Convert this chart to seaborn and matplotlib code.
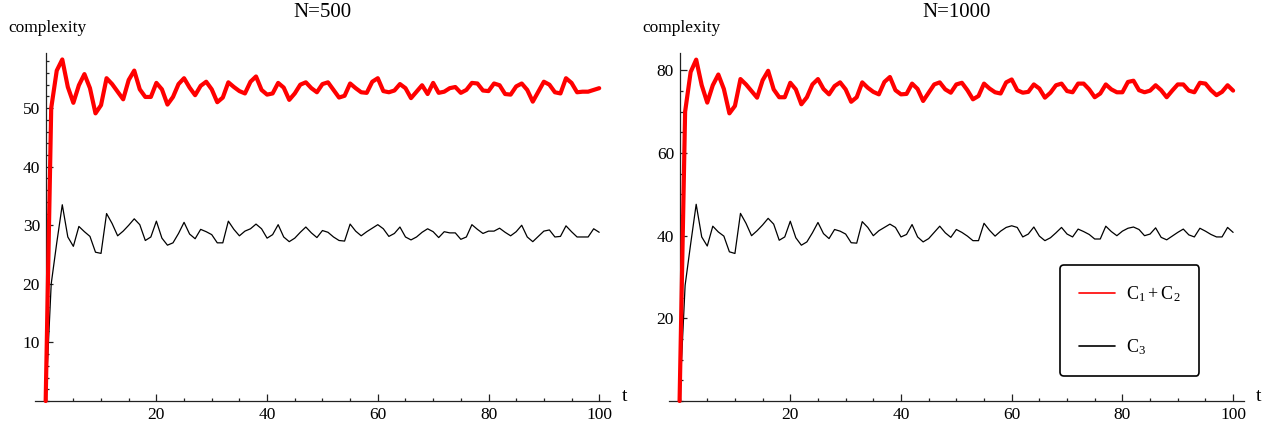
import numpy as np
import matplotlib
matplotlib.use('Agg')
import matplotlib.pyplot as plt
from matplotlib.lines import Line2D
from matplotlib.ticker import MultipleLocator
import seaborn as sns

# time steps shared by both panels
t = np.arange(0, 101)

# N=500 panel
red_500 = [0, 50, 56.4, 58.3, 53.6, 50.9, 53.9, 55.8, 53.4, 49.1,
           50.5, 55.1, 54.1, 52.8, 51.5, 54.8, 56.4, 53.2, 51.9, 51.9,
           54.3, 53.2, 50.6, 51.9, 54.1, 55.1, 53.5, 52.2, 53.8, 54.5,
           53.2, 51.0, 51.8, 54.4, 53.6, 52.9, 52.5, 54.5, 55.4, 53.1,
           52.3, 52.5, 54.3, 53.5, 51.4, 52.5, 54.0, 54.4, 53.4, 52.7,
           54.1, 54.4, 53.1, 51.8, 52.1, 54.2, 53.4, 52.7, 52.6, 54.5,
           55.1, 52.9, 52.7, 53.0, 54.1, 53.4, 51.7, 52.8, 53.9, 52.4,
           54.3, 52.6, 52.8, 53.4, 53.6, 52.6, 53.1, 54.3, 54.2, 53.0,
           52.9, 54.2, 53.9, 52.4, 52.3, 53.7, 54.2, 53.1, 51.1, 52.8,
           54.5, 54.0, 52.7, 52.5, 55.1, 54.3, 52.7, 52.8, 52.8, 53.1,
           53.4]
black_500 = [0, 20, 27, 33.5, 28.0, 26.4, 29.8, 28.9, 28.1, 25.4,
             25.2, 32.0, 30.3, 28.2, 29.0, 30.0, 31.1, 30.1, 27.4, 28.0,
             30.7, 27.8, 26.6, 27.0, 28.6, 30.5, 28.5, 27.7, 29.3, 28.9,
             28.4, 27.0, 27.0, 30.7, 29.3, 28.2, 29.0, 29.4, 30.2, 29.4,
             27.8, 28.4, 30.1, 28.0, 27.2, 27.8, 28.8, 29.7, 28.7, 27.9,
             29.1, 28.8, 28.0, 27.4, 27.3, 30.2, 29.0, 28.2, 28.9, 29.5,
             30.1, 29.4, 28.1, 28.6, 29.7, 28.0, 27.5, 28.0, 28.8, 29.4,
             28.9, 27.9, 28.9, 28.7, 28.7, 27.6, 28.0, 30.1, 29.3, 28.6,
             29.0, 29.0, 29.5, 28.8, 28.2, 28.9, 30.0, 28.0, 27.2, 28.1,
             29.0, 29.2, 28.0, 28.1, 29.9, 28.9, 28.0, 28.0, 28.0, 29.4,
             28.8]

# N=1000 panel
red_1000 = [0, 70.0, 79.6, 82.6, 76.4, 72.2, 76.4, 79.0, 75.5, 69.6,
            71.4, 77.9, 76.6, 75.0, 73.4, 77.6, 79.9, 75.4, 73.5, 73.5,
            77.0, 75.4, 71.8, 73.5, 76.6, 77.9, 75.5, 74.2, 76.2, 77.1,
            75.4, 72.4, 73.5, 77.1, 75.8, 74.8, 74.2, 77.2, 78.4, 75.2,
            74.2, 74.3, 76.8, 75.5, 72.6, 74.6, 76.6, 77.1, 75.4, 74.6,
            76.6, 77.0, 75.2, 73.0, 73.8, 76.8, 75.6, 74.7, 74.4, 77.1,
            77.8, 75.2, 74.6, 74.8, 76.6, 75.6, 73.4, 74.6, 76.4, 76.8,
            75.0, 74.7, 76.8, 76.8, 75.4, 73.5, 74.4, 76.6, 75.4, 74.7,
            74.7, 77.2, 77.5, 75.2, 74.7, 75.1, 76.4, 75.2, 73.5, 75.1,
            76.6, 76.6, 75.1, 74.7, 77.0, 76.8, 75.2, 74.0, 74.8, 76.4,
            75.1]
black_1000 = [0, 28, 38, 47.6, 39.7, 37.5, 42.3, 40.9, 39.9, 36.1,
              35.7, 45.4, 43.0, 40.0, 41.2, 42.6, 44.2, 42.8, 38.9, 39.7,
              43.5, 39.5, 37.7, 38.5, 40.7, 43.2, 40.5, 39.3, 41.5, 41.1,
              40.4, 38.3, 38.2, 43.4, 42.0, 40.0, 41.2, 42.0, 42.8, 42.0,
              39.7, 40.3, 42.7, 39.7, 38.5, 39.3, 40.8, 42.3, 40.7, 39.6,
              41.5, 40.8, 39.9, 38.8, 38.8, 43.0, 41.3, 39.9, 41.1, 42.0,
              42.4, 42.0, 39.7, 40.4, 42.1, 39.9, 38.8, 39.5, 40.7, 42.0,
              40.4, 39.7, 41.6, 41.0, 40.3, 39.2, 39.2, 42.3, 41.0, 40.0,
              41.1, 41.8, 42.1, 41.5, 40.0, 40.4, 41.9, 39.6, 39.0, 39.9,
              40.8, 41.6, 40.2, 39.7, 41.8, 41.1, 40.3, 39.7, 39.7, 42.0,
              40.8]

titles = ['N=500', 'N=1000']
y_tops = [59.4, 84.2]
y_majors = [10, 20]
y_minors = [2, 5]
legend_labels = [r'$\mathrm{C}_1\:+\:\mathrm{C}_2$', r'$\mathrm{C}_3$']


def style_axes(ax, title, y_top, y_major, y_minor):
    ''' Mathematica-like axes crossing at the origin '''
    ax.set_xlim(-2, 102)
    ax.set_ylim(0, y_top)
    for side in ['top', 'right']:
        ax.spines[side].set_visible(False)
    ax.spines['left'].set_position(('data', 0))
    ax.spines['bottom'].set_position(('data', 0))
    for side in ['left', 'bottom']:
        ax.spines[side].set_linewidth(0.9)
        ax.spines[side].set_color('#222222')

    ax.set_xticks([20, 40, 60, 80, 100])
    ax.set_yticks(np.arange(y_major, y_top, y_major))
    ax.xaxis.set_minor_locator(MultipleLocator(5))
    ax.yaxis.set_minor_locator(MultipleLocator(y_minor))
    ax.tick_params(which='both', direction='in', width=0.9, color='#222222',
                   labelsize=12.5, labelcolor='black', pad=4,
                   bottom=True, left=True, top=False, right=False)
    ax.tick_params(which='major', length=5)
    ax.tick_params(which='minor', length=2.2)
    ax.set_xlabel('')
    ax.set_ylabel('')

    ax.text(0.5, 1.117, title, transform=ax.transAxes, ha='center',
            va='center', fontsize=15, color='black')
    ax.text(-0.046, 1.072, 'complexity', transform=ax.transAxes, ha='left',
            va='center', fontsize=12.5, color='black')
    ax.text(1.02, 0.014, 't', transform=ax.transAxes, ha='left',
            va='center', fontsize=14, color='black')


if __name__ == '__main__':
    sns.set_style('white')
    plt.rcParams['font.family'] = ['Liberation Serif', 'DejaVu Serif']
    plt.rcParams['mathtext.fontset'] = 'custom'
    plt.rcParams['mathtext.rm'] = 'Liberation Serif'
    plt.rcParams['mathtext.it'] = 'Liberation Serif:italic'
    plt.rcParams['text.color'] = 'black'

    fig = plt.figure(figsize=(12.77, 4.3), dpi=100)
    ax1 = fig.add_axes([0.0271, 0.0674, 0.4508, 0.8093])
    ax2 = fig.add_axes([0.5235, 0.0674, 0.4508, 0.8093])

    panels = [(ax1, red_500, black_500), (ax2, red_1000, black_1000)]
    for ii, (ax, red, black) in enumerate(panels):
        sns.lineplot(x=t, y=black, ax=ax, color='black', linewidth=0.9,
                     clip_on=False, zorder=3)
        sns.lineplot(x=t, y=red, ax=ax, color='red', linewidth=3,
                     clip_on=False, zorder=4)
        style_axes(ax, titles[ii], y_tops[ii], y_majors[ii], y_minors[ii])

    handles = [Line2D([], [], color='red', linewidth=1.2),
               Line2D([], [], color='black', linewidth=1.2)]
    leg = ax2.legend(handles, legend_labels, loc='upper left',
                     bbox_to_anchor=(0.68, 0.391), borderaxespad=0,
                     fontsize=13, frameon=True, fancybox=True,
                     borderpad=1.05, labelspacing=1.85, handlelength=2.0,
                     handletextpad=0.6)
    frame = leg.get_frame()
    frame.set_edgecolor('black')
    frame.set_linewidth(1.2)
    frame.set_alpha(1)

    fig.savefig('out.png', dpi=100)
